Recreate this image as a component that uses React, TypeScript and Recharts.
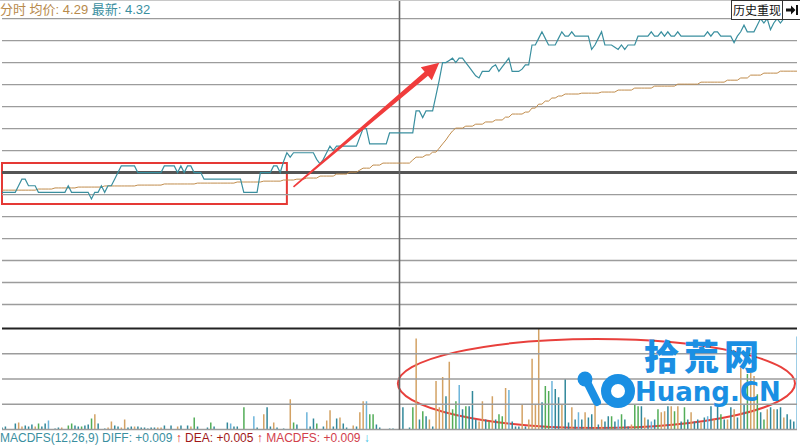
import React from "react";
import {
  ComposedChart,
  Line,
  Bar,
  Cell,
  XAxis,
  YAxis,
  ReferenceLine,
  ReferenceArea,
} from "recharts";

// ─── data: one point per trading minute (0 = 9:30, 120 = 11:30/13:00, 240 = 15:00)
const minutes: number[] = Array.from({ length: 241 }, (_, i) => i);

const prevClose = 4.24;
const priceLevels = [4.18, 4.19, 4.2, 4.21, 4.22, 4.23, 4.25, 4.26, 4.27, 4.28, 4.29, 4.3, 4.31];
const volLevels = [25, 50, 75];

const prices = [
  4.231, 4.231, 4.231, 4.231, 4.231, 4.234, 4.237, 4.237, 4.234, 4.234,
  4.234, 4.231, 4.231, 4.231, 4.231, 4.231, 4.231, 4.231, 4.231, 4.231,
  4.234, 4.231, 4.231, 4.231, 4.231, 4.231, 4.231, 4.228, 4.231, 4.231,
  4.234, 4.231, 4.234, 4.234, 4.237, 4.240, 4.243, 4.243, 4.243, 4.243,
  4.243, 4.240, 4.240, 4.240, 4.240, 4.240, 4.240, 4.240, 4.240, 4.243,
  4.243, 4.243, 4.243, 4.240, 4.243, 4.240, 4.243, 4.243, 4.240, 4.240,
  4.240, 4.237, 4.237, 4.237, 4.237, 4.237, 4.237, 4.237, 4.237, 4.237,
  4.237, 4.237, 4.237, 4.231, 4.231, 4.231, 4.231, 4.231, 4.240, 4.240,
  4.240, 4.240, 4.243, 4.243, 4.240, 4.245, 4.249, 4.247, 4.249, 4.249,
  4.249, 4.249, 4.249, 4.249, 4.249, 4.246, 4.244, 4.246, 4.249, 4.252,
  4.250, 4.252, 4.252, 4.252, 4.252, 4.252, 4.252, 4.252, 4.256, 4.260,
  4.260, 4.253, 4.253, 4.253, 4.253, 4.253, 4.253, 4.258, 4.258, 4.258,
  4.258, 4.258, 4.258, 4.258, 4.258, 4.268, 4.268, 4.265, 4.268, 4.268,
  4.268, 4.275, 4.282, 4.290, 4.290, 4.291, 4.292, 4.290, 4.292, 4.292,
  4.290, 4.288, 4.286, 4.284, 4.283, 4.286, 4.286, 4.286, 4.288, 4.289,
  4.286, 4.288, 4.290, 4.292, 4.286, 4.286, 4.286, 4.287, 4.289, 4.289,
  4.298, 4.298, 4.301, 4.304, 4.301, 4.298, 4.298, 4.298, 4.301, 4.304,
  4.302, 4.302, 4.304, 4.302, 4.302, 4.302, 4.302, 4.302, 4.296, 4.298,
  4.301, 4.304, 4.298, 4.298, 4.298, 4.297, 4.296, 4.298, 4.296, 4.298,
  4.298, 4.298, 4.302, 4.302, 4.302, 4.302, 4.304, 4.302, 4.302, 4.304,
  4.302, 4.304, 4.302, 4.302, 4.304, 4.302, 4.302, 4.302, 4.302, 4.302,
  4.302, 4.302, 4.302, 4.304, 4.302, 4.304, 4.304, 4.302, 4.302, 4.302,
  4.302, 4.299, 4.302, 4.304, 4.307, 4.304, 4.304, 4.304, 4.307, 4.310,
  4.308, 4.310, 4.305, 4.308, 4.310, 4.308, 4.310, 4.311, 4.311, 4.311,
  4.311,
];

const avgPrices = [
  4.2320, 4.2320, 4.2320, 4.2320, 4.2320, 4.2320, 4.2320, 4.2320, 4.2320, 4.2320,
  4.2320, 4.2325, 4.2325, 4.2325, 4.2325, 4.2325, 4.2330, 4.2330, 4.2330, 4.2330,
  4.2330, 4.2330, 4.2330, 4.2334, 4.2334, 4.2334, 4.2334, 4.2334, 4.2334, 4.2334,
  4.2334, 4.2339, 4.2339, 4.2339, 4.2339, 4.2339, 4.2339, 4.2339, 4.2339, 4.2339,
  4.2339, 4.2343, 4.2343, 4.2343, 4.2343, 4.2343, 4.2343, 4.2343, 4.2343, 4.2348,
  4.2348, 4.2348, 4.2348, 4.2348, 4.2348, 4.2348, 4.2348, 4.2348, 4.2348, 4.2352,
  4.2352, 4.2352, 4.2352, 4.2352, 4.2352, 4.2352, 4.2352, 4.2352, 4.2352, 4.2352,
  4.2352, 4.2357, 4.2357, 4.2357, 4.2357, 4.2357, 4.2357, 4.2357, 4.2357, 4.2361,
  4.2361, 4.2361, 4.2361, 4.2361, 4.2361, 4.2366, 4.2366, 4.2366, 4.2366, 4.2370,
  4.2370, 4.2370, 4.2375, 4.2375, 4.2375, 4.2375, 4.2384, 4.2384, 4.2384, 4.2384,
  4.2384, 4.2393, 4.2393, 4.2393, 4.2393, 4.2402, 4.2402, 4.2402, 4.2411, 4.2420,
  4.2420, 4.2420, 4.2434, 4.2434, 4.2434, 4.2443, 4.2443, 4.2443, 4.2443, 4.2443,
  4.2443, 4.2443, 4.2443, 4.2443, 4.2457, 4.2470, 4.2470, 4.2470, 4.2480, 4.2480,
  4.2493, 4.2493, 4.2511, 4.2530, 4.2548, 4.2570, 4.2589, 4.2602, 4.2602, 4.2602,
  4.2611, 4.2611, 4.2611, 4.2620, 4.2620, 4.2620, 4.2630, 4.2630, 4.2630, 4.2639,
  4.2639, 4.2639, 4.2652, 4.2652, 4.2666, 4.2666, 4.2666, 4.2666, 4.2675, 4.2675,
  4.2693, 4.2693, 4.2711, 4.2711, 4.2725, 4.2725, 4.2739, 4.2739, 4.2748, 4.2748,
  4.2757, 4.2757, 4.2757, 4.2757, 4.2757, 4.2761, 4.2761, 4.2761, 4.2761, 4.2761,
  4.2761, 4.2766, 4.2766, 4.2766, 4.2766, 4.2766, 4.2775, 4.2775, 4.2775, 4.2775,
  4.2775, 4.2784, 4.2784, 4.2784, 4.2784, 4.2784, 4.2784, 4.2793, 4.2793, 4.2793,
  4.2793, 4.2793, 4.2793, 4.2793, 4.2802, 4.2802, 4.2802, 4.2802, 4.2802, 4.2802,
  4.2802, 4.2811, 4.2811, 4.2811, 4.2811, 4.2811, 4.2811, 4.2811, 4.2811, 4.2820,
  4.2820, 4.2820, 4.2820, 4.2830, 4.2830, 4.2830, 4.2843, 4.2843, 4.2843, 4.2843,
  4.2852, 4.2852, 4.2852, 4.2852, 4.2852, 4.2861, 4.2861, 4.2861, 4.2861, 4.2861,
  4.2861,
];

// volume per minute (share of panel height, 0–100)
const volumes = [
  2, 3, 0, 0, 6, 7, 3, 4, 3, 5,
  3, 6, 3, 6, 9, 0, 1, 2, 2, 0,
  4, 6, 4, 3, 3, 4, 5, 11, 15, 6,
  0, 1, 2, 8, 4, 3, 2, 10, 2, 3,
  3, 3, 2, 2, 1, 2, 2, 2, 2, 4,
  0, 4, 0, 3, 4, 0, 4, 3, 12, 3,
  0, 0, 2, 7, 3, 0, 0, 0, 7, 6,
  3, 3, 0, 22, 0, 0, 13, 2, 0, 15,
  22, 3, 7, 2, 0, 1, 0, 30, 7, 5,
  0, 0, 17, 3, 11, 6, 0, 3, 9, 19,
  3, 11, 12, 6, 2, 0, 4, 3, 17, 28,
  28, 15, 15, 5, 2, 0, 0, 1, 1, 0,
  0, 22, 0, 2, 22, 90, 10, 18, 13, 10,
  3, 48, 22, 52, 33, 67, 20, 28, 44, 20,
  23, 23, 38, 10, 8, 28, 10, 8, 33, 10,
  15, 13, 41, 39, 8, 3, 3, 25, 3, 10,
  70, 25, 100, 27, 43, 38, 48, 40, 32, 25,
  50, 7, 22, 10, 17, 10, 17, 12, 15, 24,
  5, 10, 8, 13, 13, 8, 10, 15, 10, 3,
  5, 25, 23, 23, 12, 10, 8, 10, 20, 17,
  18, 23, 23, 18, 23, 8, 22, 10, 17, 8,
  10, 7, 12, 13, 23, 10, 25, 15, 10, 10,
  22, 20, 12, 63, 25, 55, 58, 53, 35, 17,
  10, 20, 22, 20, 20, 22, 12, 15, 10, 8,
  92,
];

// trade side per minute: u = up, d = down, f = flat, b = block
const volSide = [
  "ddddduuddd", "ufddbdddud", "ffddfddfud", "dduudduudd", "udddddduud",
  "dddudddufd", "dddfdddddb", "dddfddbddu", "dduddddufd", "ddbddfdduu",
  "dduddduduu", "bffddddddd", "ddddfudfdu", "duuuduffbd", "fddduudfud",
  "ffubdddudu", "uuudffbddu", "ddudbduddu", "duddfdbfdd", "uffdudbdfu",
  "udufudfdud", "dudbdudfdu", "dududfuufd", "fududduddd", "b",
]
  .join("")
  .split("");

const sideColor: Record<string, string> = {
  u: "#d3a264",
  d: "#31889a",
  f: "#52ad57",
  b: "#6cb4da",
};

// annotations (data coordinates)
const boxMinutes = [0, 86];
const boxPrices = [4.2257, 4.2443];
const arrowFrom = { x: 88, y: 4.2335 };
const arrowTo = { x: 132, y: 4.2899 };
const ellipseMinutes = [119.5, 239.4];
const ellipseVols = [1.5, 89.5];

const priceRows = minutes.map((m, i) => ({ m, price: prices[i], avg: avgPrices[i] }));
const volRows = minutes.map((m, i) => ({ m, vol: volumes[i], side: volSide[i] ?? "d" }));

function ArrowShape(props: any) {
  const { x1, y1, x2, y2 } = props;
  if ([x1, y1, x2, y2].some((v) => typeof v !== "number" || isNaN(v))) return null;
  const dx = x2 - x1;
  const dy = y2 - y1;
  const len = Math.hypot(dx, dy);
  const ux = dx / len;
  const uy = dy / len;
  const nx = -uy;
  const ny = ux;
  const head = 17;
  const hw = 8.5;
  const w0 = 0.8;
  const w1 = 2.6;
  const bx = x2 - ux * head;
  const by = y2 - uy * head;
  const pts = [
    [x1 + nx * w0, y1 + ny * w0],
    [bx + nx * w1, by + ny * w1],
    [bx + nx * hw, by + ny * hw],
    [x2, y2],
    [bx - nx * hw, by - ny * hw],
    [bx - nx * w1, by - ny * w1],
    [x1 - nx * w0, y1 - ny * w0],
  ];
  return <polygon points={pts.map((p) => p.join(",")).join(" ")} fill="#f03c3c" />;
}

function EllipseShape(props: any) {
  const { x, y, width, height } = props;
  return (
    <ellipse
      cx={x + width / 2}
      cy={y + height / 2}
      rx={width / 2}
      ry={height / 2}
      fill="none"
      stroke="#e8403c"
      strokeWidth={2}
    />
  );
}

const cjk = '"Liberation Sans", "Noto Sans CJK SC", sans-serif';

export default function App() {
  return (
    <div
      style={{
        position: "absolute",
        left: 0,
        top: 0,
        width: 800,
        height: 448,
        background: "#fff",
        overflow: "hidden",
        fontFamily: cjk,
      }}
    >
      {/* top border */}
      <div style={{ position: "absolute", left: 0, top: 0, width: 800, height: 1, background: "#c8c8c8" }} />

      {/* price panel */}
      <div style={{ position: "absolute", left: 0, top: 0 }}>
        <ComposedChart width={800} height={330} data={priceRows} margin={{ top: 1, right: 3, bottom: 3.5, left: 2 }}>
          <XAxis type="number" dataKey="m" domain={[0, 240]} hide allowDataOverflow />
          <YAxis type="number" domain={[4.17, 4.318]} hide allowDataOverflow />
          {priceLevels.map((p) => (
            <ReferenceLine key={p} y={p} stroke="#9c9c9c" strokeWidth={1.3} />
          ))}
          <ReferenceLine y={prevClose} stroke="#555" strokeWidth={3} />
          <ReferenceLine x={120} stroke="#666" strokeWidth={1.6} />
          <Line type="linear" dataKey="avg" stroke="#c08c4c" strokeWidth={1} dot={false} isAnimationActive={false} />
          <Line type="linear" dataKey="price" stroke="#3a8f9f" strokeWidth={1.2} dot={false} isAnimationActive={false} />
          <ReferenceArea
            x1={boxMinutes[0]}
            x2={boxMinutes[1]}
            y1={boxPrices[0]}
            y2={boxPrices[1]}
            fill="none"
            fillOpacity={0}
            stroke="#e53935"
            strokeWidth={2}
          />
          <ReferenceLine segment={[arrowFrom, arrowTo]} shape={ArrowShape} />
        </ComposedChart>
      </div>

      {/* volume panel */}
      <div style={{ position: "absolute", left: 0, top: 326 }}>
        <ComposedChart width={800} height={110} data={volRows} margin={{ top: 2.5, right: 3, bottom: 6.5, left: 2 }}>
          <XAxis type="number" dataKey="m" domain={[0, 240]} hide allowDataOverflow />
          <YAxis type="number" domain={[0, 100]} hide allowDataOverflow />
          {volLevels.map((v) => (
            <ReferenceLine key={v} y={v} stroke="#9c9c9c" strokeWidth={1.3} />
          ))}
          <ReferenceLine y={0} stroke="#9c9c9c" strokeWidth={1.3} />
          <ReferenceLine x={120} stroke="#666" strokeWidth={1.6} />
          <Bar dataKey="vol" barSize={1.5} isAnimationActive={false}>
            {volRows.map((r) => (
              <Cell key={r.m} fill={sideColor[r.side]} />
            ))}
          </Bar>
          <ReferenceLine y={100} stroke="#222" strokeWidth={2} />
          <ReferenceArea
            x1={ellipseMinutes[0]}
            x2={ellipseMinutes[1]}
            y1={ellipseVols[0]}
            y2={ellipseVols[1]}
            shape={EllipseShape}
          />
        </ComposedChart>
      </div>

      {/* header */}
      <div
        style={{
          position: "absolute",
          left: 0,
          top: 2,
          fontSize: 13,
          lineHeight: "16px",
          whiteSpace: "nowrap",
          background: "#fff",
          paddingRight: 2,
        }}
      >
        <span style={{ color: "#b88a4c" }}>分时 均价: 4.29 </span>
        <span style={{ color: "#3a8f9f" }}>最新: 4.32</span>
      </div>
      <div
        style={{
          position: "absolute",
          left: 731,
          top: 0,
          width: 50,
          height: 18,
          border: "1px solid #333",
          background: "#fff",
          fontSize: 12,
          lineHeight: "18px",
          textAlign: "center",
          color: "#111",
          whiteSpace: "nowrap",
          fontFamily: '"Noto Sans CJK SC", sans-serif',
        }}
      >
        历史重现
      </div>
      <div
        style={{
          position: "absolute",
          left: 782,
          top: 0,
          width: 17,
          height: 18,
          border: "1px solid #333",
          background: "#fff",
        }}
      >
        <svg width={17} height={18} style={{ display: "block" }}>
          <polygon points="3,7.5 8,7.5 8,4.5 12.5,9 8,13.5 8,10.5 3,10.5" fill="#111" />
          <rect x={13} y={4} width={2} height={10} fill="#111" />
        </svg>
      </div>

      {/* watermark */}
      <div
        style={{
          position: "absolute",
          left: 644,
          top: 333,
          fontSize: 35,
          fontWeight: 900,
          letterSpacing: 5,
          color: "#1a8fe3",
          fontFamily: '"Noto Sans CJK SC", sans-serif',
          lineHeight: "44px",
          whiteSpace: "nowrap",
        }}
      >
        拾荒网
      </div>
      <svg style={{ position: "absolute", left: 0, top: 0 }} width={800} height={448}>
        <circle cx={585} cy={379} r={7.5} fill="#1a8fe3" />
        <path d="M586 380 L597 402" stroke="#1a8fe3" strokeWidth={8} strokeLinecap="round" />
        <circle cx={618} cy={391} r={12} fill="none" stroke="#1a8fe3" strokeWidth={10} />
      </svg>
      <div
        style={{
          position: "absolute",
          left: 635,
          top: 376,
          fontSize: 26,
          fontWeight: 700,
          color: "#1a8fe3",
          fontFamily: '"DejaVu Sans", sans-serif',
          lineHeight: "32px",
          whiteSpace: "nowrap",
        }}
      >
        Huang.CN
      </div>

      {/* MACD footer */}
      <div
        style={{
          position: "absolute",
          left: 0,
          top: 431,
          fontSize: 12,
          lineHeight: "15px",
          whiteSpace: "nowrap",
        }}
      >
        <span style={{ color: "#3a8f9f" }}>MACDFS(12,26,9) DIFF: +0.009</span>
        <span style={{ color: "#e02020", fontWeight: 700 }}> ↑ </span>
        <span style={{ color: "#a01818" }}>DEA: +0.005</span>
        <span style={{ color: "#e02020", fontWeight: 700 }}> ↑ </span>
        <span style={{ color: "#d2404c" }}>MACDFS: +0.009</span>
        <span style={{ color: "#40c4e8", fontWeight: 700 }}> ↓</span>
      </div>
    </div>
  );
}
